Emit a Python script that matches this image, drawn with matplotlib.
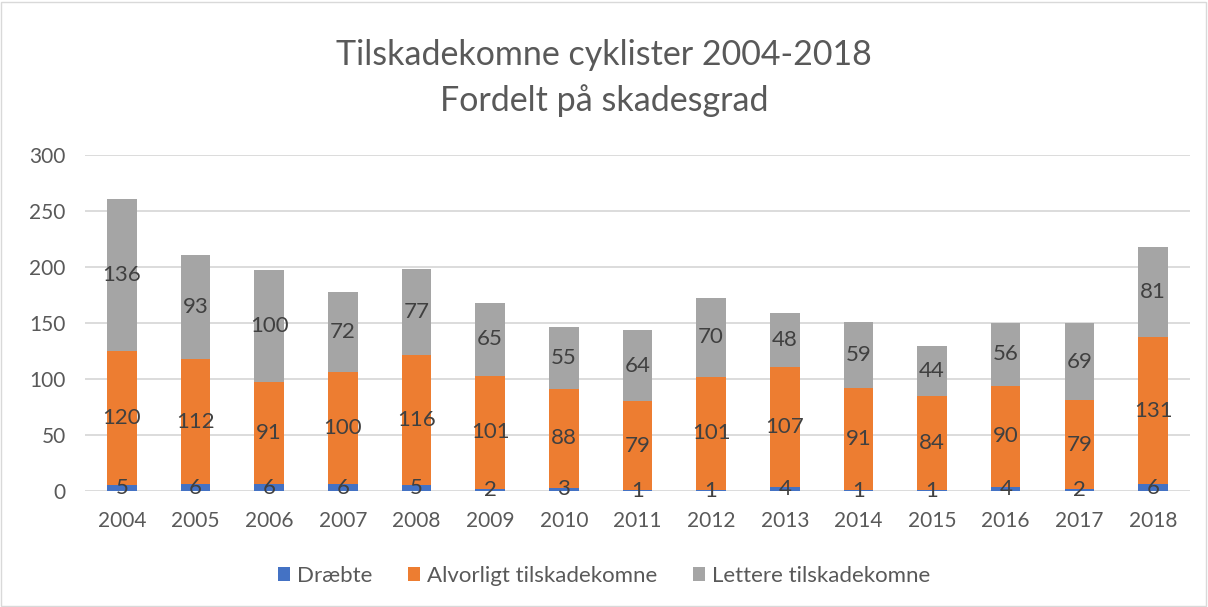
import numpy as np
import matplotlib.pyplot as plt
from matplotlib.patches import Rectangle

plt.rcParams['font.family'] = ['Lato', 'DejaVu Sans']

years = ['2004', '2005', '2006', '2007', '2008', '2009', '2010', '2011',
         '2012', '2013', '2014', '2015', '2016', '2017', '2018']
draebte = [5, 6, 6, 6, 5, 2, 3, 1, 1, 4, 1, 1, 4, 2, 6]
alvorligt = [120, 112, 91, 100, 116, 101, 88, 79, 101, 107, 91, 84, 90, 79, 131]
lettere = [136, 93, 100, 72, 77, 65, 55, 64, 70, 48, 59, 44, 56, 69, 81]

series = [('Dræbte', draebte, '#4472C4'),
          ('Alvorligt tilskadekomne', alvorligt, '#ED7D31'),
          ('Lettere tilskadekomne', lettere, '#A5A5A5')]

fig = plt.figure(figsize=(12.08, 6.07), dpi=100)
ax = fig.add_axes([0.0704, 0.191, 0.9146, 0.554])

x = np.arange(len(years))
bottom = np.zeros(len(years))
for name, vals, col in series:
    vals = np.array(vals, dtype=float)
    bars = ax.bar(x, vals, 0.4, bottom=bottom, color=col, label=name, zorder=2)
    ax.bar_label(bars, labels=[str(int(v)) for v in vals], label_type='center',
                 fontsize=16, color='#404040')
    bottom += vals

ax.set_xlim(-0.5, len(years) - 0.5)
ax.set_ylim(0, 300)
ax.set_yticks(range(0, 301, 50))
ax.set_xticks(x)
ax.set_xticklabels(years)
ax.grid(axis='y', color='#D9D9D9', linewidth=1.3, zorder=0)
ax.set_axisbelow(True)
for s in ax.spines.values():
    s.set_visible(False)
ax.tick_params(length=0, labelsize=15, labelcolor='#595959')
ax.tick_params(axis='y', pad=14)
ax.tick_params(axis='x', pad=14)

fig.text(0.5, 0.909, 'Tilskadekomne cyklister 2004-2018', ha='center', va='center',
         fontsize=24.5, color='#595959')
fig.text(0.5, 0.834, 'Fordelt på skadesgrad', ha='center', va='center',
         fontsize=24.5, color='#595959')

fig.legend(loc='center', bbox_to_anchor=(0.5, 0.051), ncol=3, frameon=False,
           fontsize=16, labelcolor='#595959', handlelength=0.55, handleheight=0.55,
           handletextpad=0.3, columnspacing=1.6)

fig.patches.append(Rectangle((0.001, 0.002), 0.997, 0.995, transform=fig.transFigure,
                             fill=False, edgecolor='#D9D9D9', linewidth=1))

fig.savefig('out.png', dpi=100)
